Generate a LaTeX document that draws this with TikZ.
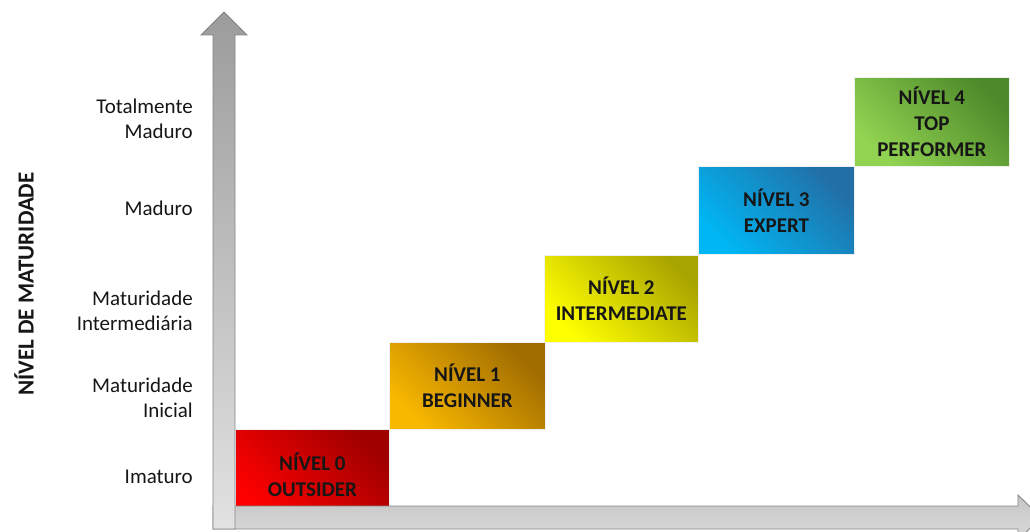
\documentclass[tikz,border=0pt]{standalone}
\usepackage{fontspec}
\setmainfont{Carlito}
\definecolor{axisline}{HTML}{858585}
\definecolor{axisdark}{HTML}{9C9C9C}
\definecolor{axislight}{HTML}{E2E2E2}
\definecolor{haxtop}{HTML}{C6C6C6}
\definecolor{haxbot}{HTML}{DADADA}
\definecolor{redlo}{HTML}{FF0000}\definecolor{redhi}{HTML}{A00000}
\definecolor{orglo}{HTML}{F8B800}\definecolor{orghi}{HTML}{A06C00}
\definecolor{yello}{HTML}{FFFF00}\definecolor{yelhi}{HTML}{A9A500}
\definecolor{blulo}{HTML}{00B6F4}\definecolor{bluhi}{HTML}{226FA6}
\definecolor{grnlo}{HTML}{92D452}\definecolor{grnhi}{HTML}{4E8A2A}
\definecolor{txt}{HTML}{161616}
\tikzset{
  levelbox/.style n args={2}{draw=white!88!gray, line width=0.8pt,
    bottom color=#1, top color=#2, shading angle=-45,
    anchor=north west, inner sep=0pt, align=center, text=txt,
    font=\fontsize{21}{26}\selectfont\bfseries},
  scalelabel/.style={anchor=east, align=right, inner sep=0pt, text=txt,
    font=\fontsize{21}{25.5}\selectfont},
  axisarrow/.style={draw=axisline, line width=0.9pt, line join=miter}
}
\begin{document}
\begin{tikzpicture}[x=1pt,y=-1pt]
\useasboundingbox (0,0) rectangle (1030,532);
\clip (0,0) rectangle (1030,532);

% maturity levels, stepping up to the right
\node[levelbox={redlo}{redhi}, minimum width=154pt, minimum height=90pt] (n0) at (235,429) {NÍVEL 0\\OUTSIDER};
\node[levelbox={orglo}{orghi}, minimum width=156pt, minimum height=87pt] (n1) at (389,342) {NÍVEL 1\\BEGINNER};
\node[levelbox={yello}{yelhi}, minimum width=154pt, minimum height=87pt] (n2) at (544,255) {NÍVEL 2\\INTERMEDIATE};
\node[levelbox={blulo}{bluhi}, minimum width=156pt, minimum height=88pt] (n3) at (698,166) {NÍVEL 3\\EXPERT};
\node[levelbox={grnlo}{grnhi}, minimum width=155pt, minimum height=89pt] (n4) at (854,77) {NÍVEL 4\\TOP\\PERFORMER};

% horizontal block arrow
\path[axisarrow, top color=haxtop, bottom color=haxbot]
  (213,506) -- (1018,506) -- (1018,495) -- (1041,517.5) -- (1018,540)
  -- (1018,529) -- (213,529) -- cycle;

% vertical block arrow
\path[axisarrow, top color=axisdark, bottom color=axislight]
  (213,529) -- (213,35) -- (201,35) -- (224,12) -- (247,35) -- (235,35)
  -- (235,529) -- cycle;

% scale labels
\node[scalelabel] (l4) at (193,119) {Totalmente\\Maduro};
\node[scalelabel] (l3) at (193,208) {Maduro};
\node[scalelabel] (l2) at (193,311) {Maturidade\\Intermediária};
\node[scalelabel] (l1) at (193,398) {Maturidade\\Inicial};
\node[scalelabel] (l0) at (193,477) {Imaturo};

% axis title
\node[rotate=90, inner sep=0pt, text=txt, font=\fontsize{23}{27}\selectfont\bfseries] (yt) at (24,284) {NÍVEL DE MATURIDADE};
\end{tikzpicture}
\end{document}
